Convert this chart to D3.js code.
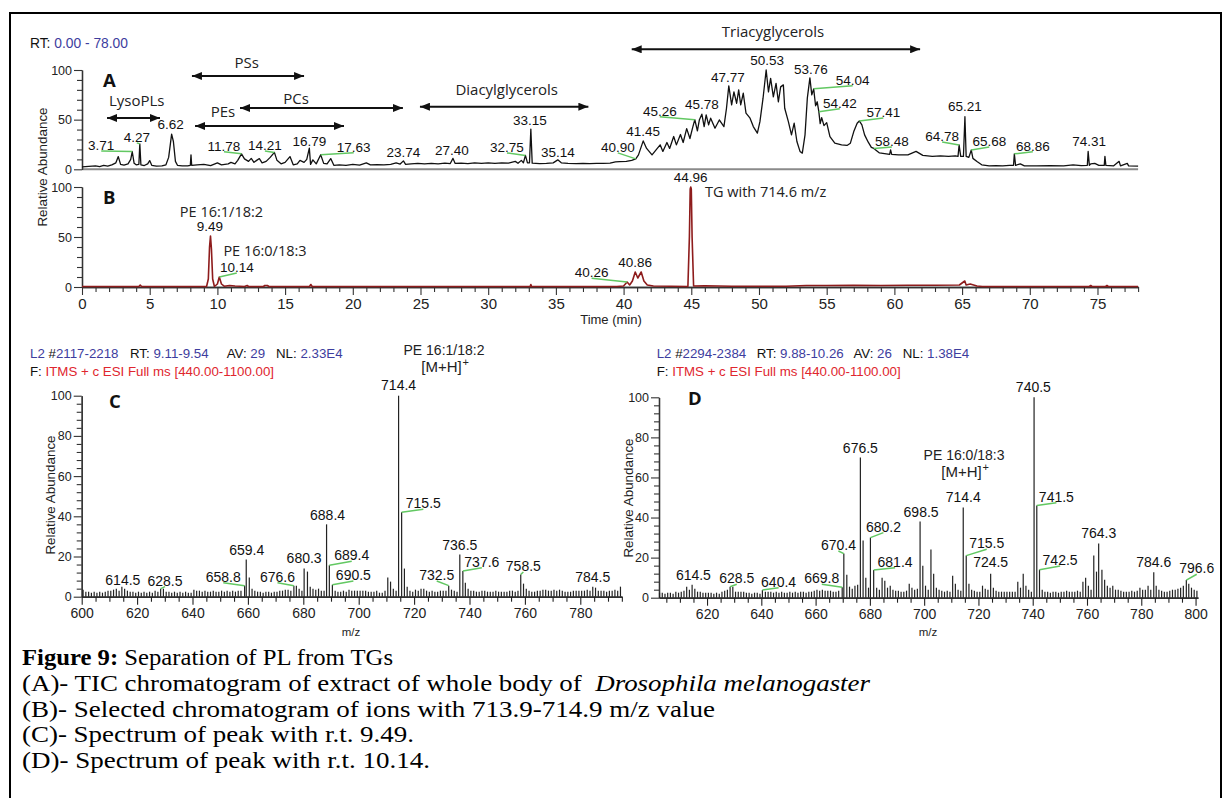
<!DOCTYPE html>
<html>
<head>
<meta charset="utf-8">
<script src="https://cdn.jsdelivr.net/npm/d3@7"></script>
<style>
html, body { margin: 0; padding: 0; background: #fff; }
svg { display: block; }
.num { font-family: "Liberation Sans", Arial, sans-serif; }
.ann { font-family: "Open Sans", "Noto Sans", sans-serif; }
.cap { font-family: "Liberation Serif", "Times New Roman", serif; white-space: pre; }
</style>
</head>
<body>
<svg id="fig" width="1223" height="798"></svg>
<script>
// ---------- Panel A: total ion chromatogram [retention time (min), relative abundance (%)] ----------
const ticPoints = [
 [0.0,2.5],[0.5,3.0],[1.0,3.5],[1.3,2.8],[1.6,4.0],[1.9,3.2],[2.2,4.5],[2.5,6.5],[2.68,12.8],[2.85,5.0],
 [3.1,4.2],[3.4,5.5],[3.6,10],[3.71,17.9],[3.85,6.0],[4.0,4.5],[4.2,5],[4.27,25.6],[4.35,4.5],[4.6,3.8],
 [4.85,5.5],[5.0,8.8],[5.15,4.0],[5.5,3.2],[5.9,3.5],[6.2,4.5],[6.4,12],[6.62,35.4],[6.75,28],[6.9,8],
 [7.05,4],[7.4,3.5],[7.8,3.5],[8.0,4],[8.05,14.6],[8.1,4],[8.5,4.5],[9.0,5.0],[9.5,3.8],[10.0,6.5],
 [10.3,4.5],[10.8,5.5],[11.0,7],[11.3,5.5],[11.5,9],[11.78,15.6],[12.0,10.5],[12.3,8],[12.5,11],[12.7,7],
 [12.9,9],[13.1,10.8],[13.3,6.5],[13.6,8],[13.9,12],[14.21,17],[14.4,9],[14.7,5.5],[15.0,7],[15.36,12.8],
 [15.6,4.5],[15.9,5.5],[16.1,9],[16.4,7],[16.6,10],[16.79,21.3],[16.88,5],[17.05,9.5],[17.3,5.5],[17.63,14.6],
 [17.85,6],[18.1,5.5],[18.37,10.8],[18.6,4],[19.0,4.5],[19.5,4],[20.0,5],[20.5,4.2],[21.0,6.5],[21.3,4.5],
 [21.8,4.8],[22.3,4.5],[22.8,5],[23.2,6.5],[23.5,5.3],[23.74,8.5],[23.9,5],[24.3,5.5],[24.8,6],[25.3,5.5],
 [25.8,6],[26.3,5.5],[26.8,6.3],[27.2,5.8],[27.4,11],[27.55,6],[28.0,6.2],[28.5,5.8],[29.0,6.5],[29.5,6],
 [30.0,6.5],[30.5,6],[31.0,6.5],[31.5,6.3],[32.0,8],[32.2,6],[32.45,9],[32.6,6.5],[32.75,14],[32.9,6.5],
 [33.05,6.5],[33.15,40.5],[33.25,6.2],[33.8,5.8],[34.3,6],[34.8,6.5],[35.14,9.5],[35.4,6.5],[35.9,6],[36.5,5.8],
 [37.0,6],[37.5,5.8],[38.0,6],[38.5,6],[39.0,6.3],[39.4,7.5],[39.7,7.8],[40.2,8],[40.6,9],[40.9,10.5],
 [41.1,14.5],[41.45,28.6],[41.7,21],[42.1,14.5],[42.4,19.5],[42.7,24.6],[42.9,18],[43.2,27],[43.4,21],[43.7,33],
 [43.9,24.6],[44.2,35],[44.4,27],[44.66,41],[44.9,31],[45.1,42],[45.26,50],[45.45,38.7],[45.6,50],[45.78,55.5],
 [45.95,43],[46.1,54.8],[46.28,44.7],[46.43,51.5],[46.75,41.4],[47.07,49.7],[47.41,43],[47.6,61.5],[47.77,84],[47.98,64.8],
 [48.15,78],[48.35,66.5],[48.5,80],[48.65,64.8],[48.84,76.6],[49.04,56.5],[49.34,51.5],[49.58,43],[49.88,36.4],[50.07,48],
 [50.3,71.6],[50.53,100],[50.7,78],[50.86,91.6],[51.06,73],[51.26,86.6],[51.43,68],[51.6,83],[51.8,85],[51.9,61.5],
 [52.17,48],[52.4,34.7],[52.6,46.4],[52.8,28],[53.03,18],[53.2,16.3],[53.4,34.7],[53.57,71.6],[53.76,92],[53.9,75],
 [54.04,81],[54.18,64],[54.3,68],[54.42,58],[54.52,46],[54.63,52],[54.8,44],[55.0,47],[55.24,33],[55.6,26.3],
 [56.1,24.6],[56.5,24],[56.75,26.3],[57.0,38],[57.25,46.4],[57.41,48.7],[57.6,44.7],[57.8,34.7],[58.07,27.3],[58.3,22],
 [58.48,21],[58.9,16.5],[59.4,15.6],[59.65,15],[59.72,19.6],[59.8,15],[60.3,14.6],[61.0,14.6],[61.6,18],[62.1,14],
 [62.8,13],[63.4,13.5],[64.0,13],[64.5,13.5],[64.7,13],[64.78,24.5],[64.9,13],[65.1,13],[65.21,53],[65.3,13],
 [65.5,12],[65.68,19.4],[65.8,11],[66.1,7.8],[66.45,4.5],[67.0,3.5],[67.5,3.8],[68.0,3.5],[68.5,4],[68.8,4],
 [68.86,15.6],[68.95,4],[69.3,5.5],[69.6,3.5],[70.5,3.5],[71.5,3.8],[72.5,3.5],[73.2,4.5],[73.8,3.8],[74.25,4],
 [74.31,18],[74.4,4],[74.5,5.5],[74.8,6],[75.1,4],[75.5,4],[75.55,13],[75.62,4],[76.2,3.5],[76.6,8],
 [76.7,3.5],[77.2,6],[77.3,3.5],[78.0,3.2]
];
const ticLabelTimes = [3.71,4.27,6.62,11.78,14.21,16.79,17.63,23.74,27.40,32.75,33.15,35.14,40.90,41.45,
  45.26,45.78,47.77,50.53,53.76,54.04,54.42,57.41,58.48,64.78,65.21,65.68,68.86,74.31];

// lipid class retention windows (min)
const classNames = ["LysoPLs","PSs","PCs","PEs","Diacylglycerols","Triacyglycerols"];
const classStart = [1.85, 8.12, 11.67, 8.35, 24.96, 40.6];
const classEnd   = [5.76, 16.4, 23.7, 19.35, 37.4, 61.9];

// ---------- Panel B: extracted ion chromatogram 713.9-714.9 m/z ----------
const xicPoints = [
 [0,0.5],[2,0.5],[4.2,0.5],[4.3,2],[4.4,0.5],[7.5,0.5],[9.2,0.5],[9.33,8],[9.42,40],[9.49,51],
 [9.56,38],[9.65,8],[9.78,0.5],[10.0,3],[10.14,10],[10.3,3],[10.5,0.8],[10.9,1.5],[11.3,1],[12,0.5],
 [12.2,1.5],[12.3,0.5],[13.4,0.5],[13.5,1.5],[13.7,1.5],[13.8,0.5],[16.8,0.5],[16.9,2.5],[17.0,0.5],[33.1,0.5],
 [33.15,2.5],[33.2,0.5],[39.5,0.5],[40.0,1],[40.26,5],[40.45,2],[40.65,6],[40.86,15],[41.05,9],[41.3,15],
 [41.5,6],[41.75,2],[42.2,1],[43.5,0.8],[44.75,0.5],[44.86,50],[44.92,98],[44.96,100],[45.0,98],[45.06,50],
 [45.17,1],[46,1.2],[48,0.8],[50,0.8],[52,0.8],[53.5,1.5],[55,1.5],[57,1.8],[59,1.5],[61,1.8],
 [63,1.8],[64.8,2],[65.2,6],[65.3,2],[65.6,3],[66.1,1],[66.5,0.5],[70,0.5],[74.4,0.5],[74.5,1.5],
 [74.6,0.5],[75.6,0.5],[75.7,1.5],[75.8,0.5],[78,0.5]
];
const xicLabelTimes = [9.49, 10.14, 40.26, 40.86, 44.96];
const xicCompounds = ["PE 16:1/18:2", "PE 16:0/18:3", "", "", "TG with 714.6 m/z"];

// ---------- Panel C: spectrum at r.t. 9.49 (one intensity per unit m/z bin) ----------
const mzStartC = 600;
const noiseC = [
 3.5,2.5,2.5,2,2.5,2,2.5,2,2.5,3,  3,3.5,4,3,5,4,3,2.5,2.5,2,
 2.5,2,2.5,2,2.5,2,3,2.5,3,4,      2.5,2.5,2,2.5,2,2.5,2,2.5,2,2,
 3.5,3,3,2.5,3,2.5,2.5,3,2.5,2.5,  3,2.5,3,2.5,3,2.5,3,3,5,18.5,
 9.5,4,3,2.5,2.5,2,2.5,2.5,2,2.5,  2.5,3,3,3.5,3.5,3,4,5.5,4,3,
 14,12.5,5,4,3.5,4,3,3,36,15.7,    6,3,2.5,2.5,3,2.5,3.5,3,3,3,
 3,3,3,2.5,2.5,2.5,3,2,2,3,        9.5,7.5,4,3,100,42,14,5,3,2.5,
 3.5,3,4,4,3,2.5,3,2.5,2.5,3,      3,3,5.5,3.5,3,2.5,21,12.8,7,4,
 3,3,2.5,2.5,3,3,2.5,2.5,2.5,3,    2.5,2.5,2.5,2.5,3,3,2.5,3,11,6.5,
 4,3,2.5,2.5,3,3,3.5,3.5,3,3,      3.5,3,3.5,3,2.5,2.5,2.5,3,3,3,
 3,3,3.5,3,5,4.5,3,3,3,2.5,        3,3,3.5,3,5
];
const peaksC = [[614.5,5],[628.5,4],[658.8,5.5],[659.4,18.5],[676.6,5.5],[680.3,14],[688.4,36],[689.4,15.7],
  [690.5,6],[714.4,100],[715.5,42],[732.5,5.5],[736.5,21],[737.6,12.8],[758.5,11],[784.5,5]];
const headerC = ["2117-2218", "9.11-9.54", "29", "2.33E4"];
const assignC = ["PE 16:1/18:2", 714.4];

// ---------- Panel D: spectrum at r.t. 10.14 ----------
const mzStartD = 602;
const noiseD = [
 2.5,2.5,2,2.5,2.5,2,3,2.5,
 3,3.5,5.5,4,6.5,4.5,3,3,2.5,2.5,  2.5,2.5,2,2.5,2,3,3.5,4,5,5.5,
 3,3,3,3,2.5,2.5,2,2.5,2.5,2,      3.8,3,3,3,2.5,3,2.5,3,2.5,2.5,
 3,2.5,3,2.5,3,3,2.5,3,3,3.5,      4,3.5,4,3.5,3.5,3.5,3,3,3.5,5.2,
 22,11.5,5.5,4.5,6,6.5,70,28.5,10,5, 30,13.8,5,4,10,8.5,5,6,4,3.5,
 3.5,3,3,3.5,7,5,4,4.5,38,16,      6,4,24,12,5,4,3.5,3,3.5,3,
 11,7,4,3.5,45,21,7,4,3.5,3,       3,6,4.5,4,12,5,3.5,3,3,3,
 3,3,3,3,8,5,12,6,4,3,             100,46,14,4,3,3,2.5,3,3,2.5,
 3,3,3.5,3,3,3,3.5,3,8,10,         6,4,21,13,27,14,9,6,5,6,
 4,4,3.5,3,3,3,3.5,3,3.5,5,        4,4,6,4,12.7,6,4,3.5,3,3,
 3.5,4,4,4.5,5,6,8.8,7,5,4,        3.5
];
const peaksD = [[614.5,6.5],[628.5,5.5],[640.4,3.8],[669.8,5.2],[670.4,22],[676.5,70],[680.2,30],[681.4,13.8],
  [698.5,38],[714.4,45],[715.5,21],[724.5,12],[740.5,100],[741.5,46],[742.5,14],[764.3,27],[784.6,12.7],[796.6,8.8]];
const headerD = ["2294-2384", "9.88-10.26", "26", "1.38E4"];
const assignD = ["PE 16:0/18:3", 714.4];

// ---------- tick labels ----------
const timeTicks = [0,5,10,15,20,25,30,35,40,45,50,55,60,65,70,75];
const abundTicksAB = [0,50,100];
const abundTicksCD = [0,20,40,60,80,100];
const mzTicksC = [600,620,640,660,680,700,720,740,760,780];
const mzTicksD = [620,640,660,680,700,720,740,760,780,800];

// ---------- caption ----------
const captionLines = [
  "(A)- TIC chromatogram of extract of whole body of  ",
  "(B)- Selected chromatogram of ions with 713.9-714.9 m/z value",
  "(C)- Spectrum of peak with r.t. 9.49.",
  "(D)- Spectrum of peak with r.t. 10.14."
];

// ---------- layout (pixel offsets of labels from their peak tops: dx, dy, leader) ----------
const ticLabelOffsets = [[-31,-1.5,1],[-3,-2,1],[-1,-5,0],[-17.5,-3,1],[-9.5,-2.5,1],[0,-2,0],[33,-3,1],[0,-4,0],
  [-1,-3.5,0],[-18.5,-3.5,1],[-1,-4,0],[0,-3,0],[-18,-7,1],[0,-5,0],[-35,-4,1],[0,-5,0],[-1,-4,0],[1,-5,0],
  [1,-4,0],[39,-4,1],[21,-4,1],[24,-4,1],[18,-2.5,1],[-17,-4,1],[0,-5.5,0],[18,-4,1],[18.5,-3,1],[1,-5,0]];
const xicLabelOffsets = [[-0.5,-5,0],[17.5,-5,1],[-35.5,-4.7,1],[0,-5.3,0],[0,-5.3,0]];
const xicCompoundOffsets = [[11,-19.3,"middle"],[45.7,-21,"middle"],null,null,[14.2,9.7,"start"]];
const peakLabelOffsetsC = [[1,-1.7,0],[4.4,-3,1],[-21.3,-4,1],[0.5,-4.5,0],[-16.4,-4,1],[0,-5.3,0],[1,-4.3,0],
  [22.4,-5,1],[21,-4.6,1],[0,-5.7,0],[21.7,-4,1],[-12,-5.6,1],[0,-4.5,0],[19,-4.3,1],[2.6,-3.6,1],[0,-5,0]];
const peakLabelOffsetsD = [[1.3,-4.7,0],[6.7,-3.4,1],[16.2,-3.4,1],[-20.4,-4,1],[-5.4,-3.6,1],[0,-4,0],[13,-6,1],
  [21.4,-3.3,1],[1,-4.8,0],[0,-5.8,0],[20.5,-7.3,1],[0,-7,0],[-0.7,-5,0],[19.6,-3.8,1],[20.6,-4.6,1],[0,-5.3,0],
  [0,-5,0],[10.4,-6.8,1]];
const classArrowY = [118, 76, 108, 126, 106.7, 49.3];
const classLabelXY = [[136.7,106],[246.7,68],[296,104],[223,117],[506.7,95],[773,37]];
const captionBaselines = [665, 691, 716.5, 742, 767.5];
const captionWidths = [371, 848, 693, 392, 408];

const BLUE = "#3d3d9e", RED = "#e0262e", GREEN = "#62c862", TRACE_B = "#8e1c1c";

const svg = d3.select("#fig");
svg.append("rect").attr("width", 1223).attr("height", 798).attr("fill", "#fff");
svg.append("path").attr("d", "M10,800V13H1221V800").attr("fill", "none")
  .attr("stroke", "#000").attr("stroke-width", 2);

// ---------- scales ----------
const xT = d3.scaleLinear([0, 78], [82, 1138.1]);
const yA = d3.scaleLinear([0, 100], [169.3, 70]);
const yB = d3.scaleLinear([0, 100], [287, 187]);
const xC = d3.scaleLinear([600, 795], [81.7, 621.85]);
const yC = d3.scaleLinear([0, 100], [596.7, 395.7]);
const xD = d3.scaleLinear([602.3, 800.9], [659, 1198]);
const yD = d3.scaleLinear([0, 100], [597.7, 397.3]);

// ---------- axis helpers ----------
function styleAxis(g, fs, color) {
  g.attr("font-family", null).attr("font-size", null);
  g.selectAll("text").attr("class", "num").attr("font-size", fs).attr("fill", "#222");
  g.selectAll("line").attr("stroke", color || "#333").attr("stroke-width", 1.1);
  g.select(".domain").attr("stroke", color || "#333").attr("stroke-width", 1.3);
}
function leftAxis(scale, x, majors, minorStep, fs) {
  const [a, b] = scale.domain();
  const minors = d3.range(a, b + 0.001, minorStep).filter(v => !majors.includes(v));
  svg.append("g").attr("transform", `translate(${x},0)`)
    .call(d3.axisLeft(scale).tickValues(minors).tickSize(5).tickFormat("").tickSizeOuter(0))
    .call(g => styleAxis(g, fs));
  svg.append("g").attr("transform", `translate(${x},0)`)
    .call(d3.axisLeft(scale).tickValues(majors).tickSize(8).tickPadding(2).tickSizeOuter(0))
    .call(g => styleAxis(g, fs));
}
function bottomAxis(scale, y, majors, minorStep, fs, pad, color) {
  const [a, b] = scale.domain();
  const minors = d3.range(Math.ceil(a / minorStep) * minorStep, b + 0.001, minorStep).filter(v => !majors.includes(v));
  svg.append("g").attr("transform", `translate(0,${y})`)
    .call(d3.axisBottom(scale).tickValues(minors).tickSize(5).tickFormat("").tickSizeOuter(0))
    .call(g => styleAxis(g, fs, color));
  svg.append("g").attr("transform", `translate(0,${y})`)
    .call(d3.axisBottom(scale).tickValues(majors).tickSize(8).tickPadding(pad).tickSizeOuter(0))
    .call(g => styleAxis(g, fs, color));
}
function yTitle(x, cy) {
  svg.append("text").attr("class", "num").attr("transform", `translate(${x},${cy}) rotate(-90)`)
    .attr("text-anchor", "middle").attr("font-size", 13.4).attr("fill", "#222").text("Relative Abundance");
}
function panelLetter(x, y, s) {
  svg.append("text").attr("class", "ann").attr("x", x).attr("y", y).attr("font-size", 18.5)
    .attr("font-weight", 700).attr("fill", "#111").text(s);
}
function peakLabel(x, y, text, fs, anchor) {
  svg.append("text").attr("class", "num").attr("x", x).attr("y", y).attr("font-size", fs)
    .attr("text-anchor", anchor || "middle").attr("fill", "#111").text(text);
}
function leader(x1, y1, x2, y2) {
  svg.append("line").attr("x1", x1).attr("y1", y1).attr("x2", x2).attr("y2", y2)
    .attr("stroke", GREEN).attr("stroke-width", 1.5);
}
const fmt2 = d3.format(".2f"), fmt1 = d3.format(".1f");
const valueAt = (pts, t) => pts.find(p => Math.abs(p[0] - t) < 1e-6)[1];

// ---------- Panel A ----------
svg.append("text").attr("class", "num").attr("x", 30).attr("y", 48).attr("font-size", 13.8)
  .attr("fill", "#111").call(t => {
    t.append("tspan").text("RT: ");
    t.append("tspan").attr("fill", BLUE).text("0.00 - 78.00");
  });
svg.append("line").attr("x1", xT(0)).attr("x2", xT(78)).attr("y1", yA(0)).attr("y2", yA(0))
  .attr("stroke", "#8a8a8a").attr("stroke-width", 2);
leftAxis(yA, 82, abundTicksAB, 10, 12.5);

const line = (xs, ys) => d3.line().x(d => xs(d[0])).y(d => ys(d[1]));
svg.append("path").datum(ticPoints).attr("d", line(xT, yA)).attr("fill", "none")
  .attr("stroke", "#111").attr("stroke-width", 1.3).attr("stroke-linejoin", "round");

ticLabelTimes.forEach((t, i) => {
  const px = xT(t), py = yA(valueAt(ticPoints, t));
  const [dx, dy, ld] = ticLabelOffsets[i];
  if (ld) leader(px, py, px + dx, py + dy + 1);
  peakLabel(px + dx, py + dy, fmt2(t), 13.5);
});

// lipid class arrows
const defs = svg.append("defs");
["s", "e"].forEach(k => {
  defs.append("marker").attr("id", "arr-" + k).attr("viewBox", "0 0 10 8").attr("refX", k === "e" ? 10 : 0)
    .attr("refY", 4).attr("markerWidth", 10).attr("markerHeight", 8).attr("markerUnits", "userSpaceOnUse")
    .attr("orient", "auto")
    .append("path").attr("d", k === "e" ? "M0,0L10,4L0,8Z" : "M10,0L0,4L10,8Z").attr("fill", "#111");
});
classNames.forEach((n, i) => {
  svg.append("line").attr("x1", xT(classStart[i])).attr("x2", xT(classEnd[i]))
    .attr("y1", classArrowY[i]).attr("y2", classArrowY[i]).attr("stroke", "#111").attr("stroke-width", 2)
    .attr("marker-start", "url(#arr-s)").attr("marker-end", "url(#arr-e)");
  svg.append("text").attr("class", "ann").attr("x", classLabelXY[i][0]).attr("y", classLabelXY[i][1])
    .attr("text-anchor", "middle").attr("font-size", 15).attr("fill", "#222").text(n);
});
panelLetter(103, 87, "A");

// ---------- Panel B ----------
leftAxis(yB, 82, abundTicksAB, 10, 12.5);
bottomAxis(xT, yB(0), timeTicks, 1, 15, 3, "#333");
svg.append("path").datum(xicPoints).attr("d", line(xT, yB)).attr("fill", "none")
  .attr("stroke", TRACE_B).attr("stroke-width", 1.6).attr("stroke-linejoin", "round");
xicLabelTimes.forEach((t, i) => {
  const px = xT(t), py = yB(valueAt(xicPoints, t));
  const [dx, dy, ld] = xicLabelOffsets[i];
  if (ld) leader(px, py, px + dx, py + dy + 1);
  peakLabel(px + dx, py + dy, fmt2(t), 13.5);
  const c = xicCompoundOffsets[i];
  if (c) svg.append("text").attr("class", "ann").attr("x", px + c[0]).attr("y", py + c[1])
    .attr("text-anchor", c[2]).attr("font-size", 14.5).attr("fill", "#222").text(xicCompounds[i]);
});
panelLetter(103, 204, "B");
yTitle(47, 167);
svg.append("text").attr("class", "num").attr("x", 611).attr("y", 324).attr("text-anchor", "middle")
  .attr("font-size", 13).attr("fill", "#222").text("Time (min)");

// ---------- Panels C and D ----------
function header(x, vals) {
  const y1 = 357.5, y2 = 376;
  const seg = [[0, "L2 #", vals[0]], [100, "RT: ", vals[1]], [196.7, "AV: ", vals[2]], [246, "NL: ", vals[3]]];
  seg.forEach(([off, k, v], i) => {
    const t = svg.append("text").attr("class", "num").attr("x", x + off).attr("y", y1)
      .attr("font-size", 13.3).attr("fill", "#111").style("white-space", "pre");
    if (i === 0) {
      t.append("tspan").attr("fill", BLUE).text("L2");
      t.append("tspan").text(" #");
    } else t.append("tspan").text(k);
    t.append("tspan").attr("fill", BLUE).text(v);
  });
  const f = svg.append("text").attr("class", "num").attr("x", x).attr("y", y2).attr("font-size", 13.3)
    .attr("fill", "#111").style("white-space", "pre");
  f.append("tspan").text("F: ");
  f.append("tspan").attr("fill", RED).text("ITMS + c ESI Full ms [440.00-1100.00]");
}

function spectrum(xs, ys, mzStart, noise, peaks, offsets, assign) {
  const peakBins = new Set(peaks.map(p => Math.floor(p[0])));
  const bars = noise.map((v, i) => [mzStart + i + 0.5, v]).filter(d => !peakBins.has(Math.floor(d[0])));
  svg.append("g").selectAll("line").data(bars.concat(peaks)).join("line")
    .attr("x1", d => xs(d[0])).attr("x2", d => xs(d[0]))
    .attr("y1", ys(0)).attr("y2", d => ys(d[1]))
    .attr("stroke", "#222").attr("stroke-width", 1.2);
  peaks.forEach((p, i) => {
    const px = xs(p[0]), py = ys(p[1]);
    const [dx, dy, ld] = offsets[i];
    if (ld) leader(px, py, px + dx, py + dy + 1);
    peakLabel(px + dx, py + dy, fmt1(p[0]), 14);
  });
  const ap = peaks.find(p => p[0] === assign[1]);
  return [xs(ap[0]), ys(ap[1])];
}
function assignment(x, y, name) {
  svg.append("text").attr("class", "num").attr("x", x).attr("y", y).attr("text-anchor", "middle")
    .attr("font-size", 14).attr("fill", "#222").text(name);
  svg.append("text").attr("class", "num").attr("x", x - 2.5).attr("y", y + 17)
    .attr("text-anchor", "middle").attr("font-size", 15).attr("fill", "#222").text("[M+H]");
  svg.append("text").attr("class", "num").attr("x", x + 18.5).attr("y", y + 11.5)
    .attr("font-size", 11).attr("fill", "#222").text("+");
}

// C
header(30, headerC);
leftAxis(yC, 81.7, abundTicksCD, 4, 12.5);
bottomAxis(xC, yC(0), mzTicksC, 5, 14, 3, "#222");
const aC = spectrum(xC, yC, mzStartC, noiseC, peaksC, peakLabelOffsetsC, assignC);
assignment(aC[0] + 45.4, aC[1] - 41, assignC[0]);
panelLetter(109, 408, "C");
yTitle(55, 495);
svg.append("text").attr("class", "num").attr("x", 351).attr("y", 636).attr("text-anchor", "middle")
  .attr("font-size", 11.5).attr("fill", "#222").text("m/z");

// D
header(656.7, headerD);
leftAxis(yD, 659, abundTicksCD, 4, 12.5);
bottomAxis(xD, yD(0), mzTicksD, 5, 14, 3, "#222");
const aD = spectrum(xD, yD, mzStartD, noiseD, peaksD, peakLabelOffsetsD, assignD);
assignment(aD[0] + 0.8, aD[1] - 47.8, assignD[0]);
panelLetter(688, 405, "D");
yTitle(633, 498);
svg.append("text").attr("class", "num").attr("x", 928).attr("y", 636).attr("text-anchor", "middle")
  .attr("font-size", 11.5).attr("fill", "#222").text("m/z");

// ---------- caption ----------
const capX = 22, capFs = 23;
function capText(i) {
  return svg.append("text").attr("class", "cap").attr("x", capX).attr("y", captionBaselines[i])
    .attr("font-size", capFs).attr("fill", "#000")
    .attr("textLength", captionWidths[i]).attr("lengthAdjust", "spacingAndGlyphs");
}
const c1 = capText(0);
c1.append("tspan").attr("font-weight", 700).text("Figure 9:");
c1.append("tspan").text(" Separation of PL from TGs");
const c2 = capText(1);
c2.append("tspan").text(captionLines[0]);
c2.append("tspan").attr("font-style", "italic").text("Drosophila melanogaster");
captionLines.slice(1).forEach((s, i) => capText(i + 2).text(s));
</script>
</body>
</html>
